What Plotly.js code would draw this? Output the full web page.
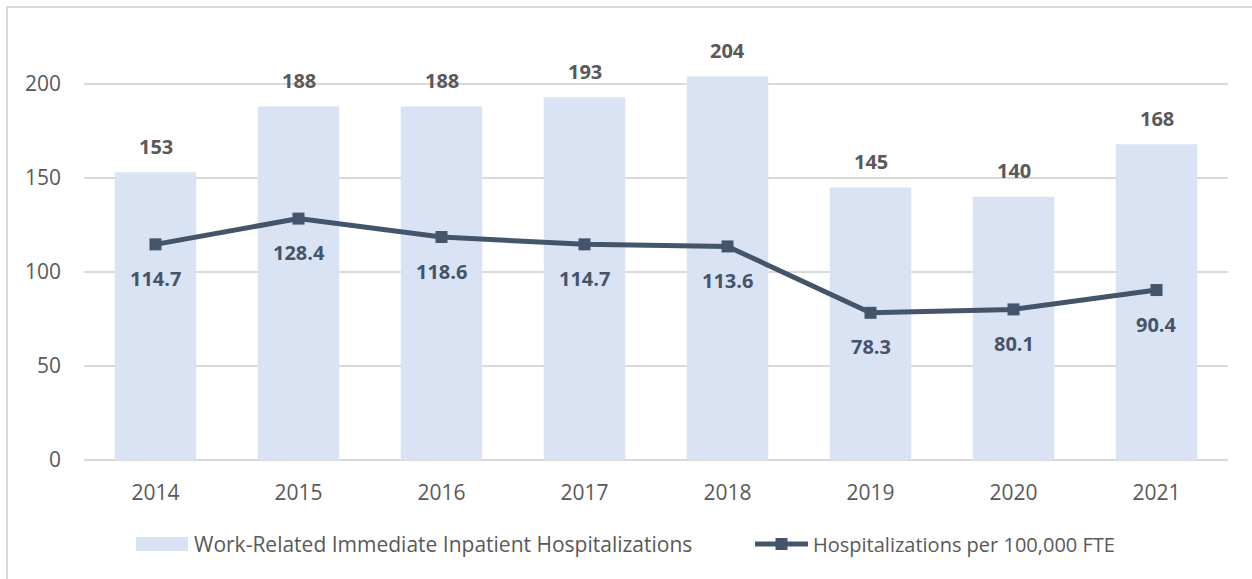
<!DOCTYPE html>
<html>
<head>
<meta charset="utf-8">
<script src="https://cdn.plot.ly/plotly-3.0.1.min.js"></script>
<style>
html,body{margin:0;padding:0;background:#fff;}
#frame{position:absolute;left:6px;top:6px;width:1250px;height:580px;border:2px solid #d9d9d9;box-sizing:border-box;pointer-events:none;z-index:5;}
#chart{position:absolute;left:0;top:0;width:1252px;height:579px;}
</style>
</head>
<body>
<div id="chart"></div>
<div id="frame"></div>
<script>
const years = [2014,2015,2016,2017,2018,2019,2020,2021];
const yearLabels = ['2014','2015','2016','2017','2018','2019','2020','2021'];
const hospitalizations = [153,188,188,193,204,145,140,168];
const ratePer100k = [114.7,128.4,118.6,114.7,113.6,78.3,80.1,90.4];
const yTicks = [0,50,100,150,200];

const FONT = '"Open Sans", sans-serif';
const FS = 21;
const BAR_COLOR = '#dae3f3';

const barTrace = {
  type:'bar', x:years, y:hospitalizations,
  name:'Work-Related Immediate Inpatient Hospitalizations',
  marker:{color:BAR_COLOR}, width:0.57, hoverinfo:'skip', legend:'legend'
};
const lineTrace = {
  type:'scatter', mode:'lines+markers', x:years, y:ratePer100k,
  name:'Hospitalizations per 100,000 FTE',
  line:{color:'#44546a', width:5},
  marker:{symbol:'square', size:12, color:'#44546a'}, hoverinfo:'skip', legend:'legend2'
};

const annotations = [];
years.forEach((yr,i)=>{
  annotations.push({x:yr, y:hospitalizations[i], xref:'x', yref:'y', text:'<b>'+hospitalizations[i]+'</b>',
    showarrow:false, yshift:26, yanchor:'middle', font:{family:FONT, size:20, color:'#595959'}});
  annotations.push({x:yr, y:ratePer100k[i], xref:'x', yref:'y', text:'<b>'+ratePer100k[i].toFixed(1)+'</b>',
    showarrow:false, yshift:-34, yanchor:'middle', font:{family:FONT, size:20, color:'#44546a'}});
});

// wide legend swatch for the bar series (paper coordinates of the plot area)
const PW = 1144, PH = 420;
const shapes = [{
  type:'rect', xref:'paper', yref:'paper',
  x0:(136-84)/PW, x1:(188-84)/PW, y0:-(537-460)/PH, y1:-(551-460)/PH,
  fillcolor:BAR_COLOR, line:{width:0}, layer:'above'
}];

const layout = {
  width:1252, height:579,
  margin:{l:84, r:24, t:40, b:119},
  paper_bgcolor:'#ffffff', plot_bgcolor:'#ffffff',
  font:{family:FONT, size:FS, color:'#595959'},
  showlegend:true,
  legend:{orientation:'h', x:(132-84)/PW, xanchor:'left', y:-0.2, yanchor:'middle', itemwidth:52,
    font:{family:FONT, size:FS, color:'#595959'}, bgcolor:'rgba(0,0,0,0)'},
  legend2:{orientation:'h', x:(750-84)/PW, xanchor:'left', y:-0.2, yanchor:'middle', itemwidth:53,
    font:{family:FONT, size:20, color:'#595959'}, bgcolor:'rgba(0,0,0,0)'},
  xaxis:{range:[2013.5,2021.5], tickvals:years, ticktext:yearLabels, showgrid:false, zeroline:false, showline:false, ticks:'',
    ticklabelstandoff:18, tickfont:{family:FONT, size:FS, color:'#595959'}},
  yaxis:{range:[0,223.4], tickvals:yTicks, showgrid:true, gridcolor:'#d9d9d9', gridwidth:1.3,
    zeroline:true, zerolinecolor:'#d9d9d9', zerolinewidth:1.3, showline:false, ticks:'',
    ticklabelstandoff:22, tickfont:{family:FONT, size:FS, color:'#595959'}},
  shapes:shapes,
  annotations:annotations
};

Plotly.newPlot('chart',[barTrace,lineTrace],layout,{displayModeBar:false, staticPlot:true});
</script>
</body>
</html>
